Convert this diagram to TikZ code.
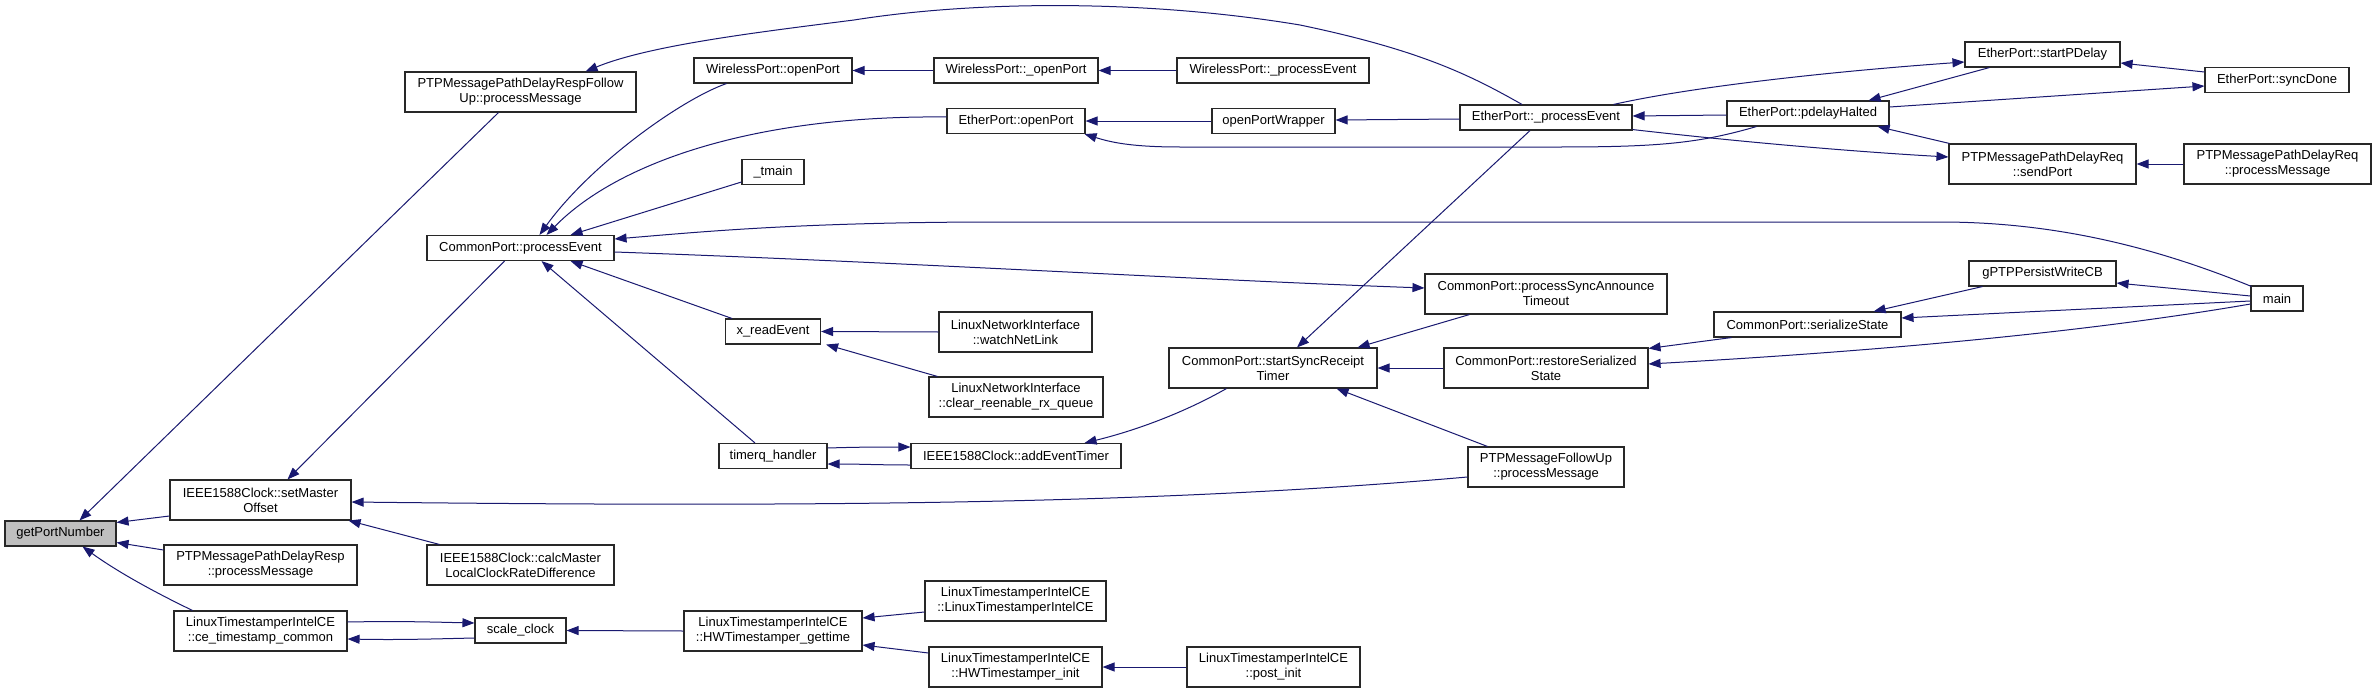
\documentclass[tikz,border=0pt]{standalone}
\usepackage{fontspec}
\setmainfont{Liberation Sans}
\usetikzlibrary{arrows.meta,calc}
\definecolor{edgeblue}{RGB}{25,25,112}
\definecolor{nodegray}{RGB}{191,191,191}
\definecolor{boxline}{RGB}{40,40,40}
\tikzset{
  fn/.style={draw=boxline, line width=1.1pt, fill=white, inner sep=2pt, align=center,
    font=\fontsize{13}{15}\selectfont, minimum height=25pt},
  fn2/.style={fn, minimum height=40pt},
  hl/.style={fill=nodegray},
  call/.style={draw=edgeblue, line width=1pt, -{Triangle[length=12pt,width=9pt]}},
}
\begin{document}
\begin{tikzpicture}[x=1pt,y=-1pt]
\useasboundingbox (0,0) rectangle (2376,693);
\fill[white] (0,0) rectangle (2376,693);
% nodes
\node[fn,hl,minimum width=111pt] (gpn) at (60.5,533.5) {getPortNumber};
\node[fn2,minimum width=231pt] (respfu) at (520.5,92) {PTPMessagePathDelayRespFollow\\Up::processMessage};
\node[fn,minimum width=187pt] (procev) at (520.5,248) {CommonPort::processEvent};
\node[fn2,minimum width=181pt] (setmo) at (260.5,500) {IEEE1588Clock::setMaster\\Offset};
\node[fn2,minimum width=193pt] (delresp) at (260.5,565) {PTPMessagePathDelayResp\\::processMessage};
\node[fn2,minimum width=173pt] (cets) at (260.5,631) {LinuxTimestamperIntelCE\\::ce\_timestamp\_common};
\node[fn2,minimum width=187pt] (calcm) at (520.5,565) {IEEE1588Clock::calcMaster\\LocalClockRateDifference};
\node[fn,minimum width=91pt] (scale) at (520.5,630.5) {scale\_clock};
\node[fn,minimum width=158pt] (wopen) at (773,70.5) {WirelessPort::openPort};
\node[fn,minimum width=62pt] (tmain) at (773,172) {\_tmain};
\node[fn,minimum width=95pt] (xread) at (773,331.5) {x\_readEvent};
\node[fn,minimum width=108pt] (timerq) at (773,456) {timerq\_handler};
\node[fn2,minimum width=178pt] (hwget) at (773,631) {LinuxTimestamperIntelCE\\::HWTimestamper\_gettime};
\node[fn,minimum width=164pt] (wopen2) at (1016,70.5) {WirelessPort::\_openPort};
\node[fn,minimum width=138pt] (eopen) at (1016,121) {EtherPort::openPort};
\node[fn2,minimum width=153pt] (watch) at (1015.5,332) {LinuxNetworkInterface\\::watchNetLink};
\node[fn2,minimum width=174pt] (clear) at (1016,397) {LinuxNetworkInterface\\::clear\_reenable\_rx\_queue};
\node[fn,minimum width=210pt] (addev) at (1016,456) {IEEE1588Clock::addEventTimer};
\node[fn2,minimum width=181pt] (ltce) at (1015.5,601) {LinuxTimestamperIntelCE\\::LinuxTimestamperIntelCE};
\node[fn2,minimum width=173pt] (hwinit) at (1015.5,667) {LinuxTimestamperIntelCE\\::HWTimestamper\_init};
\node[fn,minimum width=192pt] (wproc) at (1273,70.5) {WirelessPort::\_processEvent};
\node[fn,minimum width=123pt] (opw) at (1273.5,121) {openPortWrapper};
\node[fn2,minimum width=208pt] (sssrt) at (1273,368) {CommonPort::startSyncReceipt\\Timer};
\node[fn2,minimum width=173pt] (postinit) at (1273.5,667) {LinuxTimestamperIntelCE\\::post\_init};
\node[fn,minimum width=172pt] (eproc) at (1546,117.5) {EtherPort::\_processEvent};
\node[fn2,minimum width=242pt] (psat) at (1546,294) {CommonPort::processSyncAnnounce\\Timeout};
\node[fn2,minimum width=204pt] (rss) at (1546,368) {CommonPort::restoreSerialized\\State};
\node[fn2,minimum width=156pt] (pfu) at (1546,467) {PTPMessageFollowUp\\::processMessage};
\node[fn,minimum width=162pt] (pdh) at (1808,113.5) {EtherPort::pdelayHalted};
\node[fn,minimum width=187pt] (sers) at (1807.5,324.5) {CommonPort::serializeState};
\node[fn,minimum width=155pt] (spd) at (2042.5,54.5) {EtherPort::startPDelay};
\node[fn2,minimum width=187pt] (sendp) at (2042.5,164) {PTPMessagePathDelayReq\\::sendPort};
\node[fn,minimum width=147pt] (gpw) at (2042.5,273.5) {gPTPPersistWriteCB};
\node[fn,minimum width=144pt] (syncd) at (2277,80) {EtherPort::syncDone};
\node[fn2,minimum width=187pt] (dreqpm) at (2277.5,164) {PTPMessagePathDelayReq\\::processMessage};
\node[fn,minimum width=52pt] (main) at (2277,298.5) {main};
% edges (caller -> callee)
\draw[call] ($(respfu.south)+(-22,0)$) -- ($(gpn.north)+(19,0)$);
\draw[call] ($(setmo.west)+(0,16)$) -- ($(gpn.east)+(0,-11)$);
\draw[call] ($(delresp.west)+(0,-15)$) -- ($(gpn.east)+(0,9)$);
\draw[call] ($(cets.north)+(-68,0)$) .. controls (150,590) and (115,570) .. ($(gpn.south)+(22,0)$);
\draw[call] ($(procev.south)+(-16,0)$) -- ($(setmo.north)+(27,0)$);
\draw[call] ($(calcm.north west)+(13,0)$) -- ($(setmo.south east)+(-3,0)$);
\draw[call] ($(pfu.west)+(0,10)$) .. controls (1150,505) and (800,507) .. ($(setmo.east)+(0,2)$);
\draw[call] ($(cets.east)+(0,-9)$) .. controls (400,621) and (430,622) .. ($(scale.west)+(0,-7.5)$);
\draw[call] ($(scale.west)+(0,7.5)$) .. controls (430,639) and (400,640) .. ($(cets.east)+(0,8)$);
\draw[call] (hwget.west) -- (scale.east);
\draw[call] ($(wopen.south west)+(33,0)$) .. controls (680,100) and (590,165) .. ($(procev.north)+(19,0)$);
\draw[call] ($(eopen.west)+(0,-4)$) .. controls (760,115) and (620,160) .. ($(procev.north)+(26,0)$);
\draw[call] ($(tmain.west)+(0,10)$) -- ($(procev.north east)+(-44,0)$);
\draw[call] ($(main.north west)+(1,1)$) .. controls (2150,245) and (2050,222) .. (1940,222) -- (1000,222) .. controls (800,222) and (700,232) .. ($(procev.east)+(0,-9)$);
\draw[call] ($(procev.east)+(0,4)$) .. controls (900,262) and (1200,280) .. ($(psat.west)+(0,-6)$);
\draw[call] ($(timerq.north)+(-18,0)$) -- ($(procev.south)+(21,0)$);
\draw[call] ($(xread.north west)+(7,0)$) -- ($(procev.south east)+(-44,0)$);
\draw[call] (watch.west) -- (xread.east);
\draw[call] ($(clear.north west)+(9,0)$) -- ($(xread.south east)+(5,0)$);
\draw[call] ($(timerq.east)+(0,-8)$) .. controls (860,447) and (880,447) .. ($(addev.west)+(0,-9)$);
\draw[call] ($(addev.west)+(0,9)$) .. controls (880,465) and (860,464) .. ($(timerq.east)+(0,8)$);
\draw[call] ($(sssrt.south west)+(58,0)$) .. controls (1180,415) and (1130,432) .. ($(addev.north east)+(-37,0)$);
\draw[call] ($(ltce.west)+(0,11)$) -- ($(hwget.east)+(0,-13)$);
\draw[call] ($(hwinit.west)+(0,-14)$) -- ($(hwget.east)+(0,14)$);
\draw[call] (postinit) -- (hwinit);
\draw[call] (wopen2) -- (wopen);
\draw[call] (wproc) -- (wopen2);
\draw[call] (opw) -- (eopen);
\draw[call] ($(eproc.west)+(0,1.5)$) -- ($(opw.east)+(0,-1)$);
\draw[call] ($(pdh.south west)+(30,0)$) .. controls (1700,143) and (1660,147) .. (1560,147) -- (1180,147) .. controls (1130,147) and (1110,142) .. ($(eopen.south east)+(-1,0)$);
\draw[call] ($(eproc.north)+(-24,0)$) .. controls (1470,75) and (1420,50) .. (1300,25) .. controls (1150,0) and (980,0) .. (854,20) .. controls (760,32) and (650,45) .. ($(respfu.north east)+(-51,0)$);
\draw[call] ($(eproc.south)+(-16,0)$) -- ($(sssrt.north)+(24,0)$);
\draw[call] ($(psat.south west)+(45,0)$) -- ($(sssrt.north east)+(-20,0)$);
\draw[call] (rss) -- (sssrt);
\draw[call] ($(pfu.north west)+(20,0)$) -- ($(sssrt.south east)+(-41,0)$);
\draw[call] ($(pdh.west)+(0,1.5)$) -- ($(eproc.east)+(0,-1.5)$);
\draw[call] ($(eproc.north east)+(-19,0)$) .. controls (1700,85) and (1850,70) .. ($(spd.west)+(0,7.5)$);
\draw[call] ($(eproc.south east)+(0,-1)$) .. controls (1750,143) and (1860,152) .. ($(sendp.west)+(0,-7)$);
\draw[call] ($(spd.south west)+(25,0)$) -- ($(pdh.north east)+(-21,0)$);
\draw[call] ($(sendp.north west)+(1,0)$) -- ($(pdh.south east)+(-12,0)$);
\draw[call] ($(pdh.east)+(0,-6.5)$) -- ($(syncd.west)+(0,6)$);
\draw[call] ($(syncd.west)+(0,-8)$) -- ($(spd.east)+(0,8.5)$);
\draw[call] (dreqpm) -- (sendp);
\draw[call] ($(main.west)+(0,-2.5)$) -- ($(gpw.east)+(0,9.5)$);
\draw[call] ($(main.west)+(0,2.5)$) -- ($(sers.east)+(0,-6.5)$);
\draw[call] ($(main.west)+(0,5.5)$) .. controls (2100,330) and (1900,350) .. ($(rss.east)+(0,-4)$);
\draw[call] ($(gpw.south west)+(14,0)$) -- ($(sers.north east)+(-28,0)$);
\draw[call] ($(sers.south west)+(18,0)$) -- ($(rss.north east)+(0,1)$);
\end{tikzpicture}
\end{document}
